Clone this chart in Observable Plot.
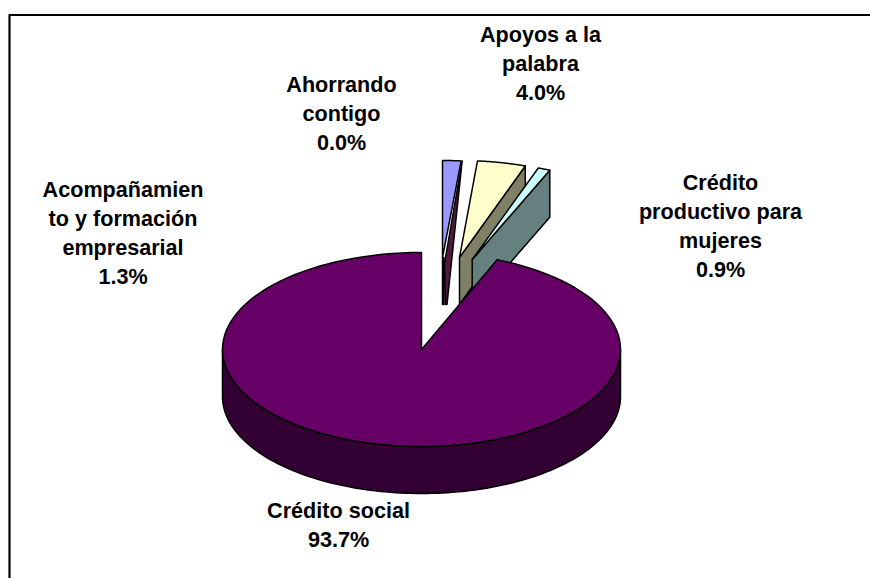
<!DOCTYPE html>
<html><head><meta charset="utf-8">
<script src="https://cdn.jsdelivr.net/npm/d3@7"></script>
<script src="https://cdn.jsdelivr.net/npm/@observablehq/plot@0.6"></script>
<style>html,body{margin:0;padding:0;background:#fff}svg{display:block}</style>
</head><body><div id="chart"></div>
<script>
// Data, in the order the slices are drawn clockwise from twelve o'clock
const categories = ["Acompañamien\nto y formación\nempresarial", "Ahorrando\ncontigo", "Apoyos a la\npalabra", "Crédito\nproductivo para\nmujeres", "Crédito social"];
const percents = [1.3, 0.0, 4.0, 0.9, 93.7];
const topColors = ["#9999FF", "#660066", "#FFFFCC", "#CCFFFF", "#660066"];
const sideColors = ["#4C4C80", "#4F1A3C", "#808066", "#668080", "#330033"];

// Layout
const W = 870, H = 578;
const pie = {cx: 421, cy: 349, rx: 199, ry: 97, depth: 47};
const explodeDX = [21, 21, 38, 50.7, 0];
const explodeDY = [-92, -92, -92, -90, 0];
const rimDepth = [0, 0, 47, 47, 47];
// the exploded wedges are drawn a little wider than their share, in degrees
const padStart = [0, 0, 0.5, 0.3, 0];
const padEnd = [0.7, 0, 0.2, 0.6, 0];
const labelX = [122.5, 341, 540, 720, 338];
const labelY = [231, 111, 61, 223.5, 523];

const total = d3.sum(percents);
const rad = Math.PI / 180;
let acc = 0;
const slices = percents.map((p, i) => {
  const a0 = acc / total * 2 * Math.PI + padStart[i] * rad; acc += p;
  return {i, a0, a1: acc / total * 2 * Math.PI + padEnd[i] * rad, ax: pie.cx + explodeDX[i], ay: pie.cy + explodeDY[i]};
});
const rim = (s, a, dz = 0) => ({
  x: s.ax + pie.rx * Math.sin(a),
  y: s.ay - pie.ry * Math.cos(a) + dz
});
const arc = (s, a0, a1, dz = 0) => d3.range(0, 121).map(k => rim(s, a0 + (a1 - a0) * k / 120, dz));
const close = pts => [...pts, pts[0]];
const poly = (pts, fill) => Plot.line(close(pts), {x: "x", y: "y", fill, stroke: "#000", strokeWidth: 1.5, strokeLinejoin: "round"});

const marks = [];
// Exploded small slices, back to front
for (const s of slices.slice(0, 4)) {
  if (percents[s.i] === 0) continue;
  const apex = {x: s.ax, y: s.ay}, low = {x: s.ax, y: s.ay + pie.depth};
  const end = rim(s, s.a1);
  if (s.i === 0) {
    // the blue strip under the apex and the thin dark face running up to the rim
    marks.push(poly([apex, low, {x: s.ax + 1.5, y: s.ay + pie.depth}, {x: s.ax + 1.5, y: s.ay}], topColors[0]));
    marks.push(poly([{x: end.x + 1, y: end.y}, {x: s.ax + 4.5, y: s.ay + pie.depth}, {x: s.ax + 3, y: s.ay + pie.depth}, {x: s.ax + 2, y: s.ay + 6}], sideColors[1]));
  } else {
    marks.push(poly([apex, end, rim(s, s.a1, rimDepth[s.i]), low], sideColors[s.i]));
  }
  marks.push(poly([apex, ...arc(s, s.a0, s.a1)], topColors[s.i]));
}
// Main slice: wall then top face
const main = slices[4];
marks.push(poly([...arc(main, Math.PI / 2, 3 * Math.PI / 2), ...arc(main, 3 * Math.PI / 2, Math.PI / 2, pie.depth)], sideColors[4]));
marks.push(poly([{x: main.ax, y: main.ay}, ...arc(main, main.a0, main.a1)], topColors[4]));

const labels = categories.map((c, i) => ({
  text: `${c}\n${percents[i].toFixed(1)}%`, x: labelX[i], y: labelY[i]
}));

document.getElementById("chart").append(Plot.plot({
  width: W, height: H, margin: 0,
  x: {domain: [0, W], range: [0, W], axis: null},
  y: {domain: [0, H], range: [0, H], axis: null},
  style: {background: "#fff"},
  marks: [
    Plot.ruleY([14.5], {x1: 9, x2: W, stroke: "#000", strokeWidth: 2.2}),
    Plot.ruleX([9], {y1: 14.5, y2: H, stroke: "#000", strokeWidth: 2.2}),
    ...marks,
    Plot.text(labels, {x: "x", y: "y", text: "text", fontSize: 21.6, fontWeight: "bold",
      fontFamily: "Liberation Sans", fill: "#000", lineHeight: 1.34, textAnchor: "middle", lineAnchor: "middle"})
  ]
}));
</script></body></html>
